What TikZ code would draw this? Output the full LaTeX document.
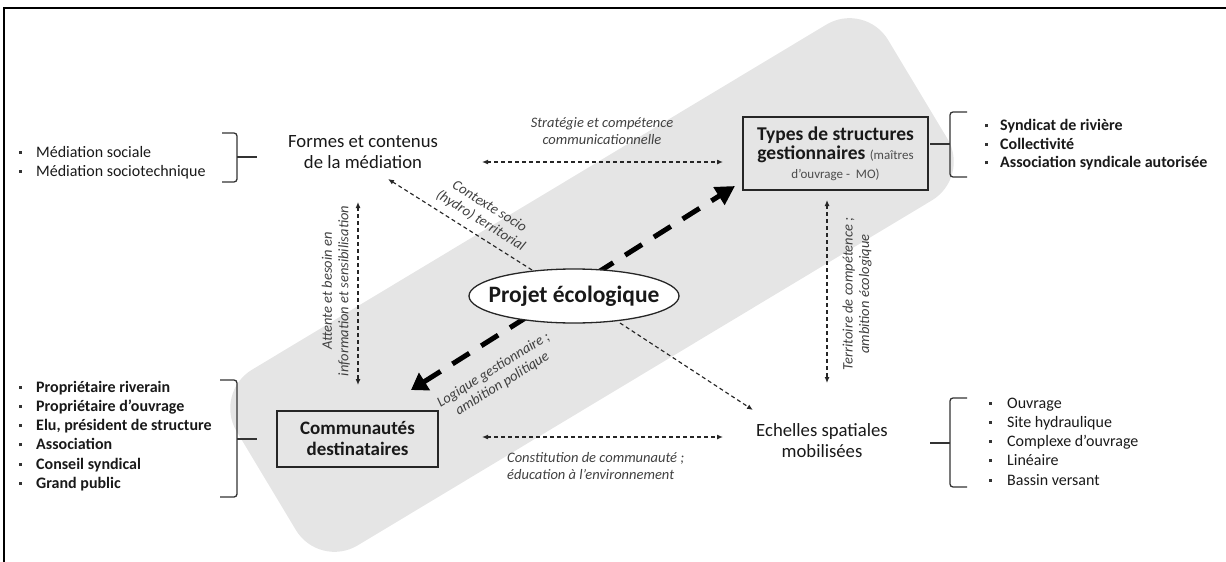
\documentclass[tikz,border=0pt]{standalone}
\usepackage{fontspec}
\setmainfont{Carlito}
\usetikzlibrary{arrows.meta,shapes.geometric}
\newcommand\lbul[1]{\makebox[#1][l]{\textcolor{black!80}{\rule[0.22em]{3pt}{3pt}}}}
\begin{document}
\begin{tikzpicture}[x=1pt,y=-1pt,
  main/.style={font=\fontsize{18.7}{21}\selectfont, align=center, inner sep=0pt, text=black!90},
  boxnode/.style={draw=black!85, line width=1.4pt, align=center, inner sep=0pt, text=black!90},
  lbl/.style={font=\fontsize{14.5}{16.5}\selectfont\itshape, text=black!75, align=center, inner sep=0pt},
  lst/.style={align=left, inner sep=0pt, anchor=west, text=black!90},
  thinarr/.style={line width=1.15pt, dash pattern=on 4pt off 3pt, black!85, {Latex[length=6pt,width=5pt]}-{Latex[length=6pt,width=5pt]}},
  onearr/.style={line width=1.15pt, dash pattern=on 4pt off 3pt, black!85, -{Latex[length=6pt,width=5pt]}},
  thickarr/.style={line width=5pt, dash pattern=on 20pt off 14pt, black, {Triangle[length=16pt,width=20pt]}-{Triangle[length=19pt,width=20pt]}},
  brk/.style={line width=1.3pt, black!80, rounded corners=3pt}
]
\useasboundingbox (0,0) rectangle (1226,562);
% grey band
\fill[black!10, rounded corners=45pt, shift={(592,285)}, rotate=31] (-380,-102.5) rectangle (380,102.5);
% frame
\draw[line width=2pt] (4,562) -- (4,8) -- (1226,8);

% main nodes
\node[main] (formes) at (363,152) {Formes et contenus\\de la médiation};
\node[boxnode, minimum width=185pt, minimum height=73pt, font=\fontsize{19.5}{19}\selectfont\bfseries] (types) at (835.5,153.5)
  {Types de structures\\gestionnaires\ {\normalfont\fontsize{13}{19}\selectfont\textcolor{black!70}{(maîtres}}\\{\normalfont\fontsize{13}{19}\selectfont\textcolor{black!70}{d’ouvrage -\ \ MO)}}};
\node[boxnode, minimum width=161pt, minimum height=56pt, font=\fontsize{19}{21}\selectfont\bfseries] (comm) at (357.5,439) {Communautés\\destinataires};
\node[main] (ech) at (822,441) {Echelles spatiales\\mobilisées};

% connector end points
\coordinate (ta) at (411,390);
\coordinate (tb) at (735,186);
\coordinate (h1a) at (482,162);
\coordinate (h1b) at (723,162);
\coordinate (h2a) at (482,437);
\coordinate (h2b) at (723,437);
\coordinate (v1a) at (358,202);
\coordinate (v1b) at (358,385);
\coordinate (v2a) at (827,200);
\coordinate (v2b) at (827,383);
\coordinate (d1a) at (532,270);
\coordinate (d1b) at (388,179);
\coordinate (d2a) at (620,323);
\coordinate (d2b) at (753,410);

% thick arrow (behind ellipse)
\draw[thickarr] (ta) -- (tb);

% ellipse
\node[ellipse, draw=black!85, line width=1.3pt, fill=white, minimum width=210pt, minimum height=54pt, inner sep=0pt, font=\fontsize{23.5}{25}\selectfont\bfseries, text=black!90] (proj) at (574,296) {\makebox[0pt]{Projet écologique}};

% thin arrows
\draw[thinarr] (h1a) -- (h1b);
\draw[thinarr] (h2a) -- (h2b);
\draw[thinarr] (v1a) -- (v1b);
\draw[thinarr] (v2a) -- (v2b);
\draw[onearr] (d1a) -- (d1b);
\draw[onearr] (d2a) -- (d2b);

% labels
\node[lbl] (l1) at (602,131) {Stratégie et compétence\\communicationnelle};
\node[lbl, anchor=west, align=left] (l2) at (507,466) {Constitution de communauté ;\\éducation à l’environnement};
\node[lbl, rotate=90] (l3) at (336,291) {Attente et besoin en\\information et sensibilisation};
\node[lbl, rotate=90] (l4) at (857,294) {Territoire de compétence ;\\ambition écologique};
\node[lbl, rotate=-32] (l5) at (485,214) {Contexte socio\\(hydro) territorial};
\node[lbl, rotate=32] (l6) at (498,377) {Logique gestionnaire ;\\ambition politique};

% lists
\node[lst, font=\fontsize{16}{19}\selectfont] (lTL) at (18.5,162.5) {\lbul{17.5pt}Médiation sociale\\\lbul{17.5pt}Médiation sociotechnique};
\node[lst, font=\fontsize{16}{18.5}\selectfont\bfseries] (lTR) at (985,145) {\lbul{15pt}Syndicat de rivière\\\lbul{15pt}Collectivité\\\lbul{15pt}Association syndicale autorisée};
\node[lst, font=\fontsize{16}{19.2}\selectfont\bfseries] (lBL) at (18.5,436) {\lbul{17.5pt}Propriétaire riverain\\\lbul{17.5pt}Propriétaire d’ouvrage\\\lbul{17.5pt}Elu, président de structure\\\lbul{17.5pt}Association\\\lbul{17.5pt}Conseil syndical\\\lbul{17.5pt}Grand public};
\node[lst, font=\fontsize{16}{19.25}\selectfont] (lBR) at (988.5,441.5) {\lbul{18.5pt}Ouvrage\\\lbul{18.5pt}Site hydraulique\\\lbul{18.5pt}Complexe d’ouvrage\\\lbul{18.5pt}Linéaire\\\lbul{18.5pt}Bassin versant};

% brackets
\draw[brk] (222,133) -- (237,133) -- (237,182) -- (222,182);
\draw[brk] (237,157) -- (257,157);
\draw[brk] (220,380) -- (237,380) -- (237,497) -- (220,497);
\draw[brk] (237,439) -- (257,439);
\draw[brk] (967,112) -- (950,112) -- (950,177) -- (967,177);
\draw[brk] (930,144) -- (950,144);
\draw[brk] (967,398) -- (950,398) -- (950,487) -- (967,487);
\draw[brk] (930,443) -- (950,443);
\end{tikzpicture}
\end{document}
